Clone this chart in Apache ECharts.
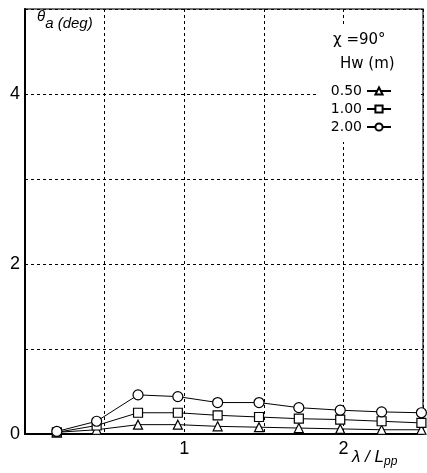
<!DOCTYPE html>
<html><head><meta charset="utf-8">
<script src="https://cdn.jsdelivr.net/npm/echarts@6/dist/echarts.min.js"></script>
<style>html,body{margin:0;padding:0;background:#fff}#c{width:427px;height:473px}</style>
</head><body><div id="c"></div>
<script>
const xValues = [0.20, 0.45, 0.71, 0.96, 1.21, 1.47, 1.72, 1.98, 2.24, 2.49];
const hw050 = [0.02, 0.05, 0.11, 0.11, 0.09, 0.08, 0.07, 0.06, 0.05, 0.05];
const hw100 = [0.02, 0.10, 0.25, 0.25, 0.22, 0.20, 0.18, 0.17, 0.15, 0.13];
const hw200 = [0.03, 0.15, 0.46, 0.44, 0.37, 0.37, 0.31, 0.28, 0.26, 0.25];
const seriesNames = ['0.50', '1.00', '2.00'];
const yTickLabels = [0, 2, 4];
const xTickLabels = [1, 2];

const pair = arr => xValues.map((x, i) => [x, arr[i]]);
const font = 'Liberation Sans, Arial, sans-serif';
const wide = 'DejaVu Sans, sans-serif';
const mk = (name, data, sym, size) => ({
  name, type: 'line', data: pair(data), symbol: sym, symbolSize: size,
  lineStyle: {color: '#000', width: 1}, itemStyle: {color: '#fff', borderColor: '#000', borderWidth: 1.2},
  showAllSymbol: true, z: 3
});
const chart = echarts.init(document.getElementById('c'), null, {renderer: 'canvas'});
chart.setOption({
  animation: false,
  backgroundColor: '#fff',
  grid: {left: 25, top: 9, right: 4, bottom: 39, show: true, borderColor: '#444', borderWidth: 1.5},
  xAxis: {
    type: 'value', min: 0, max: 2.5, interval: 0.5,
    axisLine: {show: true, lineStyle: {color: '#000', width: 2}},
    axisTick: {show: false},
    splitLine: {show: true, lineStyle: {color: '#000', type: [3, 3], width: 1}},
    axisLabel: {color: '#000', fontSize: 18, fontFamily: font, margin: 6,
      formatter: v => xTickLabels.includes(v) ? String(v) : ''}
  },
  yAxis: {
    type: 'value', min: 0, max: 5, interval: 1,
    axisLine: {show: true, lineStyle: {color: '#000', width: 2}},
    axisTick: {show: false},
    splitLine: {show: true, lineStyle: {color: '#000', type: [3, 3], width: 1}},
    axisLabel: {color: '#000', fontSize: 18, fontFamily: font, margin: 5,
      formatter: v => yTickLabels.includes(v) ? String(v) : ''}
  },
  legend: {
    orient: 'vertical', right: 30, top: 79, align: 'right',
    itemWidth: 24, itemHeight: 9, itemGap: 4, z: 10,
    textStyle: {color: '#000', fontSize: 14, fontFamily: wide},
    data: seriesNames
  },
  series: [
    mk(seriesNames[0], hw050, 'triangle', 9),
    mk(seriesNames[1], hw100, 'rect', 9),
    mk(seriesNames[2], hw200, 'circle', 10)
  ],
  graphic: [
    {type: 'rect', left: 318, top: 24, z: 5, shape: {width: 100, height: 118}, style: {fill: '#fff'}},
    {type: 'text', left: 37, top: 9, z: 6, style: {
      text: '{t|θ}{s|a (deg)}', fill: '#000',
      rich: {t: {fontSize: 15, fontStyle: 'italic', fontFamily: font, padding: [0,0,7,0]},
             s: {fontSize: 15, fontStyle: 'italic', fontFamily: font, padding: [7,0,0,0]}}}},
    {type: 'text', left: 333, top: 33, z: 6, style: {text: 'χ =90°', fill: '#000', fontSize: 15, fontFamily: wide}},
    {type: 'text', left: 340, top: 57, z: 6, style: {text: 'Hw (m)', fill: '#000', fontSize: 15, fontFamily: wide}},
    {type: 'text', left: 352, top: 449, z: 6, style: {
      text: '{a|λ / L}{b|pp}', fill: '#000',
      rich: {a: {fontSize: 17, fontStyle: 'italic', fontFamily: font},
             b: {fontSize: 12, fontStyle: 'italic', fontFamily: font, padding: [9,0,0,0]}}}}
  ]
});
</script></body></html>
